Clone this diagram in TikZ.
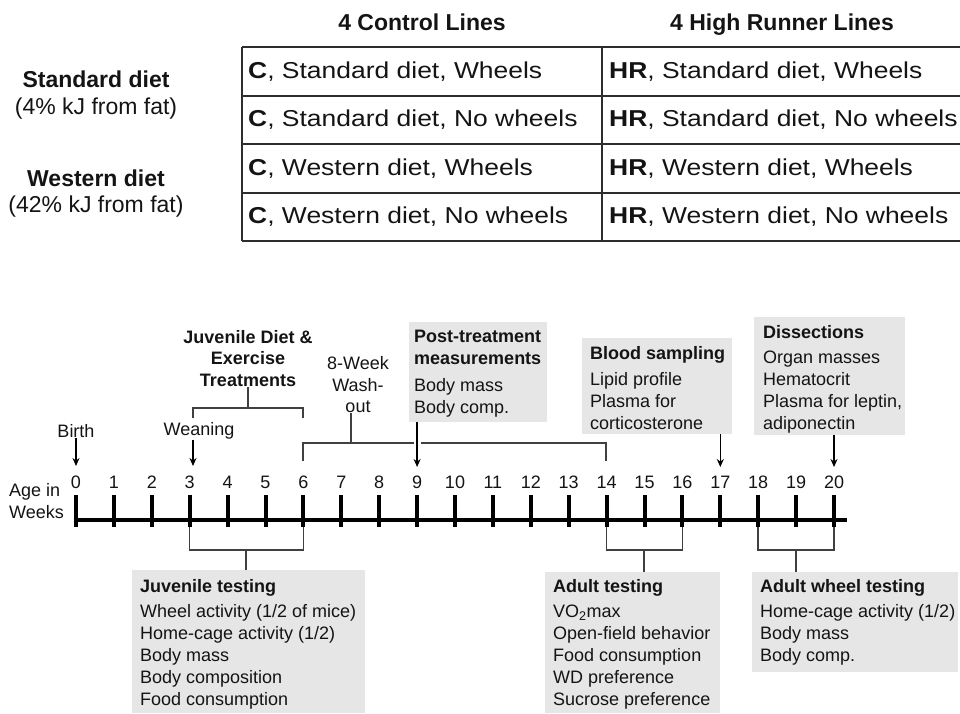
\documentclass[tikz,border=0pt]{standalone}
\usepackage{fontspec}
\setmainfont{Liberation Sans}
\usepackage{graphicx}
\usetikzlibrary{arrows.meta}
\definecolor{boxgray}{RGB}{230,230,230}
\definecolor{linegray}{RGB}{64,64,64}
\definecolor{tabline}{RGB}{45,45,45}
\definecolor{ink}{RGB}{20,20,20}
\newcommand{\tcell}[1]{\scalebox{1.15}[1]{#1}}
\begin{document}
\begin{tikzpicture}[x=1pt,y=-1pt,
  every node/.style={text=ink},
  hdr/.style={font=\fontsize{23}{27}\selectfont\bfseries, inner sep=0, anchor=base},
  diet/.style={font=\fontsize{23}{26.5}\selectfont, align=center, inner sep=0},
  cellt/.style={font=\fontsize{23}{27}\selectfont, anchor=west, inner sep=0},
  tab/.style={draw=tabline, line width=1.6pt},
  lbl/.style={font=\fontsize{18}{21.5}\selectfont, align=center, inner sep=0},
  num/.style={font=\fontsize{18}{22}\selectfont, inner sep=0},
  gbox/.style={fill=boxgray, draw=none, anchor=north west, inner sep=0},
  btext/.style={font=\fontsize{18}{22}\selectfont, align=left, anchor=north west, inner sep=0},
  brk/.style={draw=linegray, line width=1.5pt},
  arr/.style={draw=black, line width=1.3pt, -{Stealth[length=8pt,width=7pt]}},
  axisline/.style={draw=black, line width=4pt},
  tickline/.style={draw=black, line width=4pt}
]
\useasboundingbox (0,0) rectangle (960,713);

% ---------- table ----------
\node[hdr] (hc) at (422,30) {4 Control Lines};
\node[hdr] (hh) at (782,30) {4 High Runner Lines};

\node[diet] (sd) at (96,95) {\textbf{Standard diet}\\(4\% kJ from fat)};
\node[diet] (wd) at (96,193.5) {\textbf{Western diet}\\(42\% kJ from fat)};

\foreach \yy in {47,96,144,193,241} { \draw[tab] (242,\yy) -- (960,\yy); }
\draw[tab] (242,47) -- (242,241);
\draw[tab] (602,47) -- (602,241);

\node[cellt] (c1) at (248,71.5) {\tcell{\textbf{C}, Standard diet, Wheels}};
\node[cellt] (c2) at (248,120) {\tcell{\textbf{C}, Standard diet, No wheels}};
\node[cellt] (c3) at (248,168.5) {\tcell{\textbf{C}, Western diet, Wheels}};
\node[cellt] (c4) at (248,217) {\tcell{\textbf{C}, Western diet, No wheels}};
\node[cellt] (h1) at (609,71.5) {\tcell{\textbf{HR}, Standard diet, Wheels}};
\node[cellt] (h2) at (609,120) {\tcell{\textbf{HR}, Standard diet, No wheels}};
\node[cellt] (h3) at (609,168.5) {\tcell{\textbf{HR}, Western diet, Wheels}};
\node[cellt] (h4) at (609,217) {\tcell{\textbf{HR}, Western diet, No wheels}};

% ---------- timeline ----------
\node[num, align=left, anchor=west] (age) at (9,501) {Age in\\Weeks};
\coordinate (axl) at (74,520);
\coordinate (axr) at (847,520);
\draw[axisline] (axl) -- (axr);
\foreach \i in {0,...,20} {
  \coordinate (t\i) at ({76+37.9*\i},495);
  \node[num] (n\i) at ({76+37.9*\i},482) {\i};
  \draw[tickline] (t\i) -- ([yshift=-32pt]t\i);
}

% upper labels
\node[lbl] (birth) at (76,431) {Birth};
\draw[arr] (birth.south) -- ([yshift=29pt]t0);
\node[lbl] (wean) at (199,431) {Weaning};
\coordinate (w3) at (193,466);
\draw[arr] (w3 |- wean.south) -- (w3);

\node[lbl, font=\fontsize{18}{21.5}\selectfont\bfseries] (jdet) at (248,358.5) {Juvenile Diet \&\\Exercise\\Treatments};
\draw[brk] (193,418) -- (193,408) -- (303,408) -- (303,418);
\coordinate (jd) at (248,408);
\draw[brk] (jd) -- (jd |- jdet.south);

\node[lbl] (wash) at (358,385) {8-Week\\Wash-\\out};
\draw[brk] (303,461) -- (303,443) -- (606,443) -- (606,461);
\coordinate (ws) at (351,443);
\draw[brk] (ws) -- (ws |- wash.south);

% boxes above
\node[gbox, minimum width=138pt, minimum height=100pt] (postbox) at (409,322) {};
\node[btext] (postt) at (414,330) {\textbf{Post-treatment}\\\textbf{measurements}\\[5pt]Body mass\\Body comp.};
\draw[white, line width=7pt] (417,440) -- (417,446);
\draw[arr] (postbox.south -| t9) -- ([yshift=28pt]t9);

\node[gbox, minimum width=150pt, minimum height=96pt] (bloodbox) at (582,338) {};
\node[btext] (bloodt) at (590,346) {\textbf{Blood sampling}\\[4pt]Lipid profile\\Plasma for\\corticosterone};
\draw[arr] (bloodbox.south -| t17) -- ([yshift=28pt]t17);

\node[gbox, minimum width=151pt, minimum height=118pt] (dissbox) at (754,317) {};
\node[btext] (disst) at (763,325) {\textbf{Dissections}\\[3pt]Organ masses\\Hematocrit\\Plasma for leptin,\\adiponectin};
\draw[arr] (dissbox.south -| t20) -- ([yshift=28pt]t20);

% boxes below
\node[gbox, minimum width=233pt, minimum height=143pt] (juvbox) at (132,570) {};
\node[btext] (juvt) at (140,579) {\textbf{Juvenile testing}\\[3pt]Wheel activity (1/2 of mice)\\Home-cage activity (1/2)\\Body mass\\Body composition\\Food consumption};
\draw[brk] ([yshift=-32pt]t3) -- ([yshift=-55pt]t3) -- ([yshift=-55pt]t6) -- ([yshift=-32pt]t6);
\coordinate (jm) at (246,550);
\draw[brk] (jm) -- (jm |- juvbox.north);

\node[gbox, minimum width=175pt, minimum height=141pt] (adbox) at (545,572) {};
\node[btext] (adt) at (553,579) {\textbf{Adult testing}\\[3pt]VO\textsubscript{2}max\\Open-field behavior\\Food consumption\\WD preference\\Sucrose preference};
\draw[brk] ([yshift=-32pt]t14) -- ([yshift=-55pt]t14) -- ([yshift=-55pt]t16) -- ([yshift=-32pt]t16);
\coordinate (am) at (644,550);
\draw[brk] (am) -- (am |- adbox.north);

\node[gbox, minimum width=206pt, minimum height=100pt] (whbox) at (752,572) {};
\node[btext] (wht) at (760,579) {\textbf{Adult wheel testing}\\[3pt]Home-cage activity (1/2)\\Body mass\\Body comp.};
\draw[brk] ([yshift=-32pt]t18) -- ([yshift=-55pt]t18) -- ([yshift=-55pt]t20) -- ([yshift=-32pt]t20);
\coordinate (wm) at (796,550);
\draw[brk] (wm) -- (wm |- whbox.north);
\end{tikzpicture}
\end{document}
